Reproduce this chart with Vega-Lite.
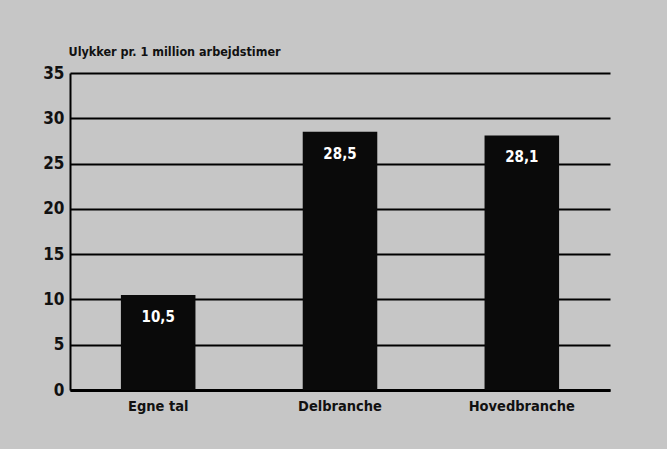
{
  "$schema": "https://vega.github.io/schema/vega-lite/v6.json",
  "width": 540,
  "height": 317,
  "autosize": {"type": "none"},
  "padding": {"left": 70, "top": 73, "right": 57, "bottom": 59},
  "background": "#c6c6c6",
  "config": {
    "locale": {"number": {"decimal": ",", "thousands": ".", "grouping": [3], "currency": ["", " kr"]}},
    "view": {"stroke": null},
    "font": "Liberation Sans Narrow, DejaVu Sans Condensed, sans-serif"
  },
  "data": {
    "values": [
      {"kategori": "Egne tal", "vaerdi": 10.5},
      {"kategori": "Delbranche", "vaerdi": 28.5},
      {"kategori": "Hovedbranche", "vaerdi": 28.1}
    ]
  },
  "encoding": {
    "x": {
      "field": "kategori", "type": "nominal", "sort": null,
      "scale": {"paddingInner": 0.59, "paddingOuter": 0.28},
      "axis": {
        "title": null, "labelAngle": 0, "ticks": false, "labelPadding": 9,
        "labelFontSize": 14.5, "labelFontWeight": "bold", "labelColor": "#111",
        "domainColor": "#000", "domainWidth": 3, "grid": false
      }
    },
    "y": {
      "field": "vaerdi", "type": "quantitative",
      "scale": {"domain": [0, 35], "nice": false},
      "axis": {
        "values": [0, 5, 10, 15, 20, 25, 30, 35],
        "title": "Ulykker pr. 1 million arbejdstimer",
        "titleAngle": 0, "titleAlign": "left", "titleBaseline": "alphabetic",
        "titleX": -2, "titleY": -18, "titleFontSize": 12.5, "titleFontWeight": "bold", "titleColor": "#111",
        "ticks": false, "labelPadding": 6, "labelFontSize": 17, "labelFontWeight": "bold", "labelColor": "#111",
        "domainColor": "#000", "domainWidth": 2,
        "grid": true, "gridColor": "#000", "gridWidth": 2, "gridOpacity": 1
      }
    }
  },
  "layer": [
    {"mark": {"type": "bar", "color": "#0a0a0a"}},
    {
      "mark": {"type": "text", "color": "#ffffff", "baseline": "top", "dy": 15, "fontSize": 15, "fontWeight": "bold"},
      "encoding": {"text": {"field": "vaerdi", "type": "quantitative", "format": ".1f"}}
    }
  ]
}
